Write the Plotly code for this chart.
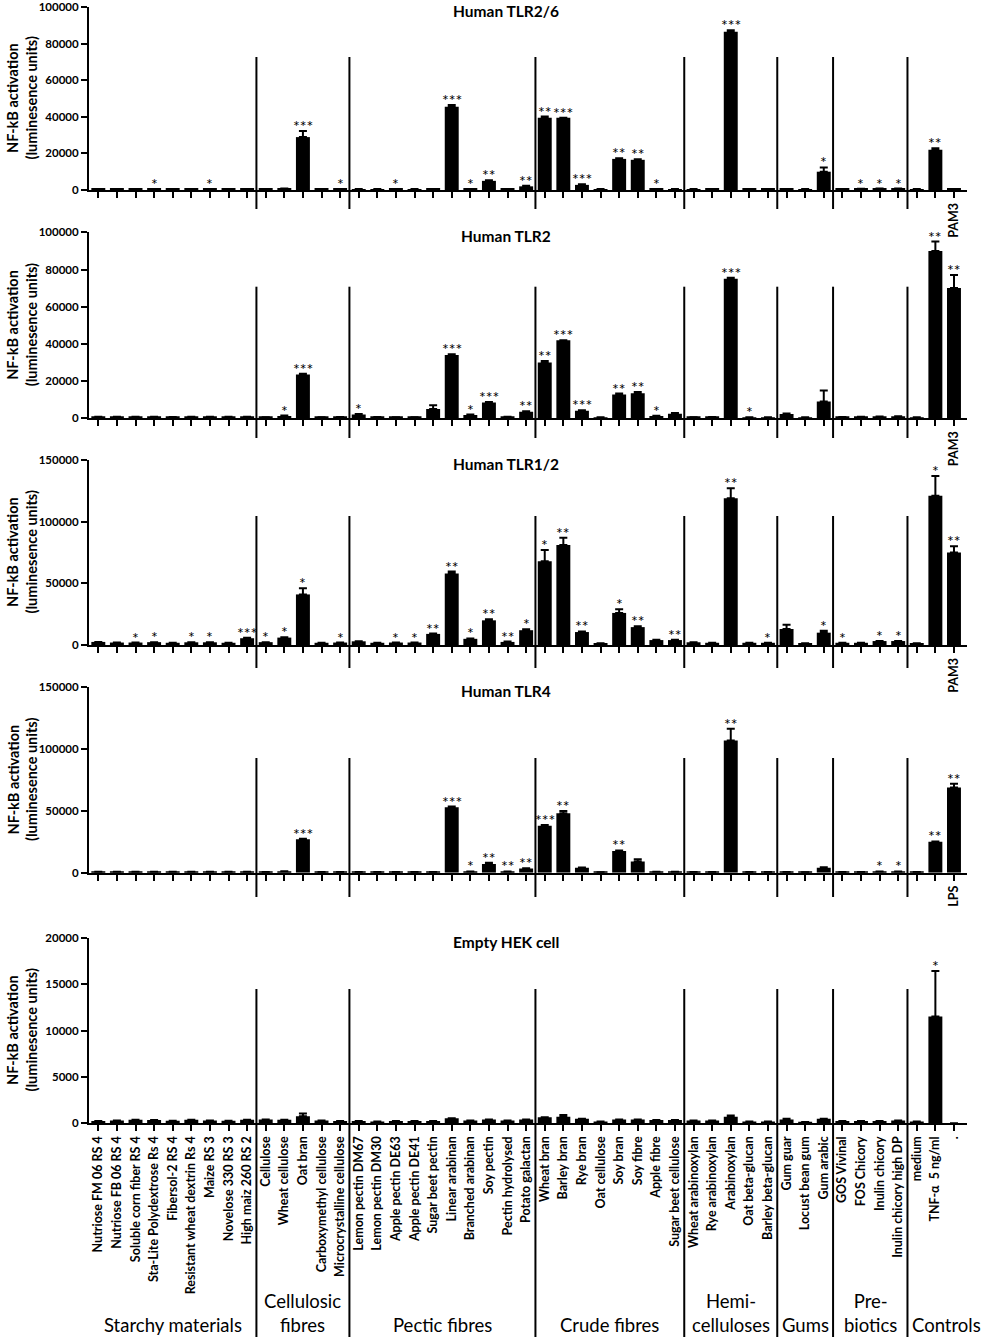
import plotly.graph_objects as go

W, H = 983, 1339
FONT = "Lato"

categories = [
    "Nutriose FM 06 RS 4", "Nutriose FB 06 RS 4", "Soluble corn fiber RS 4",
    "Sta-Lite Polydextrose Rs 4", "Fibersol-2 RS 4", "Resistant wheat dextrin Rs 4",
    "Maize RS 3", "Novelose 330 RS 3", "High maiz 260 RS 2",
    "Cellulose", "Wheat cellulose", "Oat bran", "Carboxymethyl cellulose",
    "Microcrystalline cellulose",
    "Lemon pectin DM67", "Lemon pectin DM30", "Apple pectin DE63", "Apple pectin DE41",
    "Sugar beet pectin", "Linear arabinan", "Branched arabinan", "Soy pectin",
    "Pectin hydrolysed", "Potato galactan",
    "Wheat bran", "Barley bran", "Rye bran", "Oat cellulose", "Soy bran", "Soy fibre",
    "Apple fibre", "Sugar beet cellulose",
    "Wheat arabinoxylan", "Rye arabinoxylan", "Arabinoxylan", "Oat beta-glucan",
    "Barley beta-glucan",
    "Gum guar", "Locust bean gum", "Gum arabic",
    "GOS Vivinal", "FOS Chicory", "Inulin chicory", "Inulin chicory high DP",
    "medium", "TNF-\u03b1\u00a0 5 ng/ml", ".",
]
groups = ["Starchy materials", "Cellulosic<br>fibres", "Pectic fibres", "Crude fibres",
          "Hemi-<br>celluloses", "Gums", "Pre-<br>biotics", "Controls"]
group_sizes = [9, 5, 10, 8, 5, 3, 4, 3]

# Human TLR2/6
tlr26 = [600, 600, 600, 600, 600, 600, 600, 600, 600,
         600, 800, 28900, 600, 600,
         500, 500, 600, 500, 600, 45500, 600, 5000, 600, 2000,
         39500, 39500, 2800, 500, 17000, 16500, 600, 500,
         500, 600, 86500, 600, 600,
         600, 500, 10000,
         600, 700, 800, 800,
         500, 22000, 600]
tlr26_err = [0, 0, 0, 0, 0, 0, 0, 0, 0,
             0, 0, 3300, 0, 0,
             0, 0, 0, 0, 0, 1000, 0, 300, 0, 300,
             600, 0, 300, 0, 300, 300, 0, 0,
             0, 0, 800, 0, 0,
             0, 0, 2300,
             0, 0, 0, 0,
             0, 800, 0]
tlr26_sig = ["", "", "", "*", "", "", "*", "", "",
             "", "", "***", "", "*",
             "", "", "*", "", "", "***", "*", "**", "", "**",
             "**", "***", "***", "", "**", "**", "*", "",
             "", "", "***", "", "",
             "", "", "*",
             "", "*", "*", "*",
             "", "**", ""]

# Human TLR2
tlr2 = [800, 800, 800, 800, 700, 800, 800, 800, 900,
        600, 1300, 23500, 600, 700,
        2000, 700, 600, 600, 5000, 34000, 1800, 8500, 900, 3500,
        30000, 42000, 4000, 500, 12800, 13500, 1200, 2500,
        600, 700, 75000, 500, 500,
        2300, 500, 9000,
        700, 800, 1000, 1100,
        500, 90000, 70000]
tlr2_err = [0, 0, 0, 0, 0, 0, 0, 0, 0,
            0, 200, 500, 0, 0,
            300, 0, 0, 0, 2000, 500, 200, 200, 0, 300,
            800, 0, 300, 0, 500, 600, 200, 300,
            0, 0, 600, 0, 0,
            300, 0, 6000,
            0, 0, 0, 0,
            0, 5000, 7000]
tlr2_sig = ["", "", "", "", "", "", "", "", "",
            "", "*", "***", "", "",
            "*", "", "", "", "", "***", "*", "***", "", "**",
            "**", "***", "***", "", "**", "**", "*", "",
            "", "", "***", "*", "",
            "", "", "",
            "", "", "", "",
            "", "**", "**"]

# Human TLR1/2
tlr12 = [2500, 2000, 2000, 2300, 1800, 2200, 2200, 1800, 5500,
         2300, 6000, 41000, 1800, 2000,
         3000, 1800, 2000, 2000, 9000, 58000, 5000, 20000, 2500, 12000,
         68000, 81000, 10500, 1500, 26000, 14500, 4000, 4000,
         2200, 1800, 119000, 1800, 1800,
         13000, 1500, 10000,
         1800, 1800, 3200, 3200,
         1500, 121000, 75000]
tlr12_err = [0, 0, 0, 0, 0, 0, 0, 0, 300,
             0, 300, 5000, 0, 0,
             0, 0, 0, 0, 300, 1500, 300, 800, 300, 800,
             9000, 6000, 500, 0, 3000, 800, 300, 300,
             0, 0, 8000, 0, 0,
             3500, 0, 1500,
             0, 0, 0, 0,
             0, 16000, 5000]
tlr12_sig = ["", "", "*", "*", "", "*", "*", "", "***",
             "*", "*", "*", "", "*",
             "", "", "*", "*", "**", "**", "*", "**", "**", "*",
             "*", "**", "**", "", "*", "**", "", "**",
             "", "", "**", "", "*",
             "", "", "*",
             "*", "", "*", "*",
             "", "*", "**"]

# Human TLR4
tlr4 = [700, 700, 700, 700, 700, 700, 700, 700, 700,
        600, 1200, 27000, 500, 500,
        600, 500, 500, 500, 500, 53000, 1000, 7000, 1000, 3300,
        38000, 48000, 4000, 400, 17500, 9000, 800, 700,
        600, 600, 107000, 500, 500,
        600, 400, 4000,
        500, 600, 1000, 1000,
        500, 25000, 69000]
tlr4_err = [0, 0, 0, 0, 0, 0, 0, 0, 0,
            0, 0, 400, 0, 0,
            0, 0, 0, 0, 0, 500, 0, 1000, 0, 400,
            500, 2000, 300, 0, 500, 1800, 0, 0,
            0, 0, 9500, 0, 0,
            0, 0, 400,
            0, 0, 0, 0,
            0, 300, 3000]
tlr4_sig = ["", "", "", "", "", "", "", "", "",
            "", "", "***", "", "",
            "", "", "", "", "", "***", "*", "**", "**", "**",
            "***", "**", "", "", "**", "", "", "",
            "", "", "**", "", "",
            "", "", "",
            "", "", "*", "*",
            "", "**", "**"]

# Empty HEK cell
hek = [250, 300, 380, 350, 280, 380, 300, 280, 380,
       400, 380, 750, 300, 250,
       250, 200, 250, 250, 250, 550, 300, 400, 300, 400,
       650, 700, 500, 200, 400, 400, 350, 350,
       300, 300, 700, 200, 200,
       400, 150, 500,
       250, 250, 250, 300,
       200, 11500, 0]
hek_err = [0, 0, 0, 0, 0, 0, 0, 0, 0,
           0, 0, 300, 0, 0,
           0, 0, 0, 0, 0, 0, 0, 0, 0, 0,
           0, 200, 0, 0, 0, 0, 0, 0,
           0, 0, 150, 0, 0,
           100, 0, 0,
           0, 0, 0, 0,
           0, 4900, 0]
hek_sig = [""] * 45 + ["*", ""]


def py(p):
    # pixel row -> paper coordinate
    return 1 - p / H


panels = [
    # title, values, err, sig, ymax, dtick, last tick label, axis top/bottom px, separator px
    ("Human TLR2/6", tlr26, tlr26_err, tlr26_sig, 100000, 20000, "PAM3", (7, 190), (57, 209)),
    ("Human TLR2", tlr2, tlr2_err, tlr2_sig, 100000, 20000, "PAM3", (232.3, 418.3), (286.7, 438)),
    ("Human TLR1/2", tlr12, tlr12_err, tlr12_sig, 150000, 50000, "PAM3", (460, 645), (516, 668)),
    ("Human TLR4", tlr4, tlr4_err, tlr4_sig, 150000, 50000, "LPS", (687.3, 872.7), (758, 897)),
    ("Empty HEK cell", hek, hek_err, hek_sig, 20000, 5000, None, (937.7, 1123.3), (989, 1337)),
]

fig = go.Figure()
annotations = []
shapes = []
n = len(categories)
x_dom = [89 / W, 967 / W]

# separator positions between category groups
seps = []
acc = 0
for s in group_sizes[:-1]:
    acc += s
    seps.append(acc - 0.5)

for k, (title, vals, err, sig, ymax, dtick, last_lab, (top, bot), (s_top, s_bot)) in enumerate(panels, start=1):
    xa = "x" if k == 1 else f"x{k}"
    ya = "y" if k == 1 else f"y{k}"
    fig.add_trace(go.Bar(
        x=categories, y=vals, xaxis=xa, yaxis=ya,
        marker=dict(color="black", line=dict(width=0)), width=0.75,
        error_y=dict(type="data", symmetric=False, array=err, arrayminus=[0] * n,
                     color="black", thickness=2, width=4),
        showlegend=False, hoverinfo="x+y",
    ))
    if last_lab is None:
        ticktext = categories
    else:
        ticktext = [""] * (n - 1) + [last_lab]
    fig.update_layout(**{
        ("xaxis" if k == 1 else f"xaxis{k}"): dict(
            domain=x_dom, anchor=ya, type="category", range=[-0.5, 46.7],
            showline=True, linecolor="black", linewidth=2,
            ticks="outside", ticklen=6, tickwidth=1.5, tickcolor="black",
            tickvals=categories, ticktext=ticktext, tickangle=-90,
            tickfont=dict(family=FONT, size=12.5, color="black", weight="bold"),
            showgrid=False, zeroline=False, automargin=False,
            ticklabeloverflow="allow",
        ),
        ("yaxis" if k == 1 else f"yaxis{k}"): dict(
            domain=[py(bot), py(top)], anchor=xa, range=[0, ymax],
            showline=True, linecolor="black", linewidth=2,
            ticks="outside", ticklen=6, tickwidth=1.5, tickcolor="black",
            tick0=0, dtick=dtick, tickformat="d",
            tickfont=dict(family=FONT, size=11.5, color="black", weight="bold"),
            showgrid=False, zeroline=False, automargin=False,
            ticklabeloverflow="allow",
        ),
    })
    # panel title
    annotations.append(dict(
        text=title, xref="paper", yref="paper", x=506 / W, y=py(max(top, 6) + 4),
        xanchor="center", yanchor="middle", showarrow=False,
        font=dict(family=FONT, size=15.5, color="black", weight="bold"),
    ))
    # y-axis title, two lines
    mid = py((top + bot) / 2)
    for txt, xp in (("NF-kB activation", 12.5), ("(luminesence units)", 31)):
        annotations.append(dict(
            text=txt, xref="paper", yref="paper", x=xp / W, y=mid,
            xanchor="center", yanchor="middle", textangle=-90, showarrow=False,
            font=dict(family=FONT, size=14.5, color="black", weight="bold"),
        ))
    # significance stars
    for i, s in enumerate(sig):
        if s:
            annotations.append(dict(
                text=s, xref=xa, yref=ya, x=i, y=vals[i] + err[i],
                xanchor="center", yanchor="bottom", yshift=-6, showarrow=False,
                font=dict(family=FONT, size=16, color="black"),
            ))
    # group separators
    for sx in seps:
        shapes.append(dict(
            type="line", xref=xa, yref="paper", x0=sx, x1=sx,
            y0=py(s_top), y1=py(s_bot), line=dict(color="black", width=2),
        ))

# group names under the bottom panel
start = 0
for g, size in zip(groups, group_sizes):
    centre = start + (size - 1) / 2
    if g == "Controls":
        centre += 0.6
    annotations.append(dict(
        text=g, xref="x5", yref="paper", x=centre, y=py(1338),
        xanchor="center", yanchor="bottom", showarrow=False,
        font=dict(family=FONT, size=18.5, color="black"),
    ))
    start += size

fig.update_layout(
    width=W, height=H,
    margin=dict(l=0, r=0, t=0, b=0),
    paper_bgcolor="white", plot_bgcolor="white",
    bargap=0.25, showlegend=False,
    annotations=annotations, shapes=shapes,
    font=dict(family=FONT, color="black"),
)

# drop the default page margin so the figure fills the window exactly
fig.write_html("out.html", config={"displayModeBar": False},
               post_script="document.body.style.margin='0';")
